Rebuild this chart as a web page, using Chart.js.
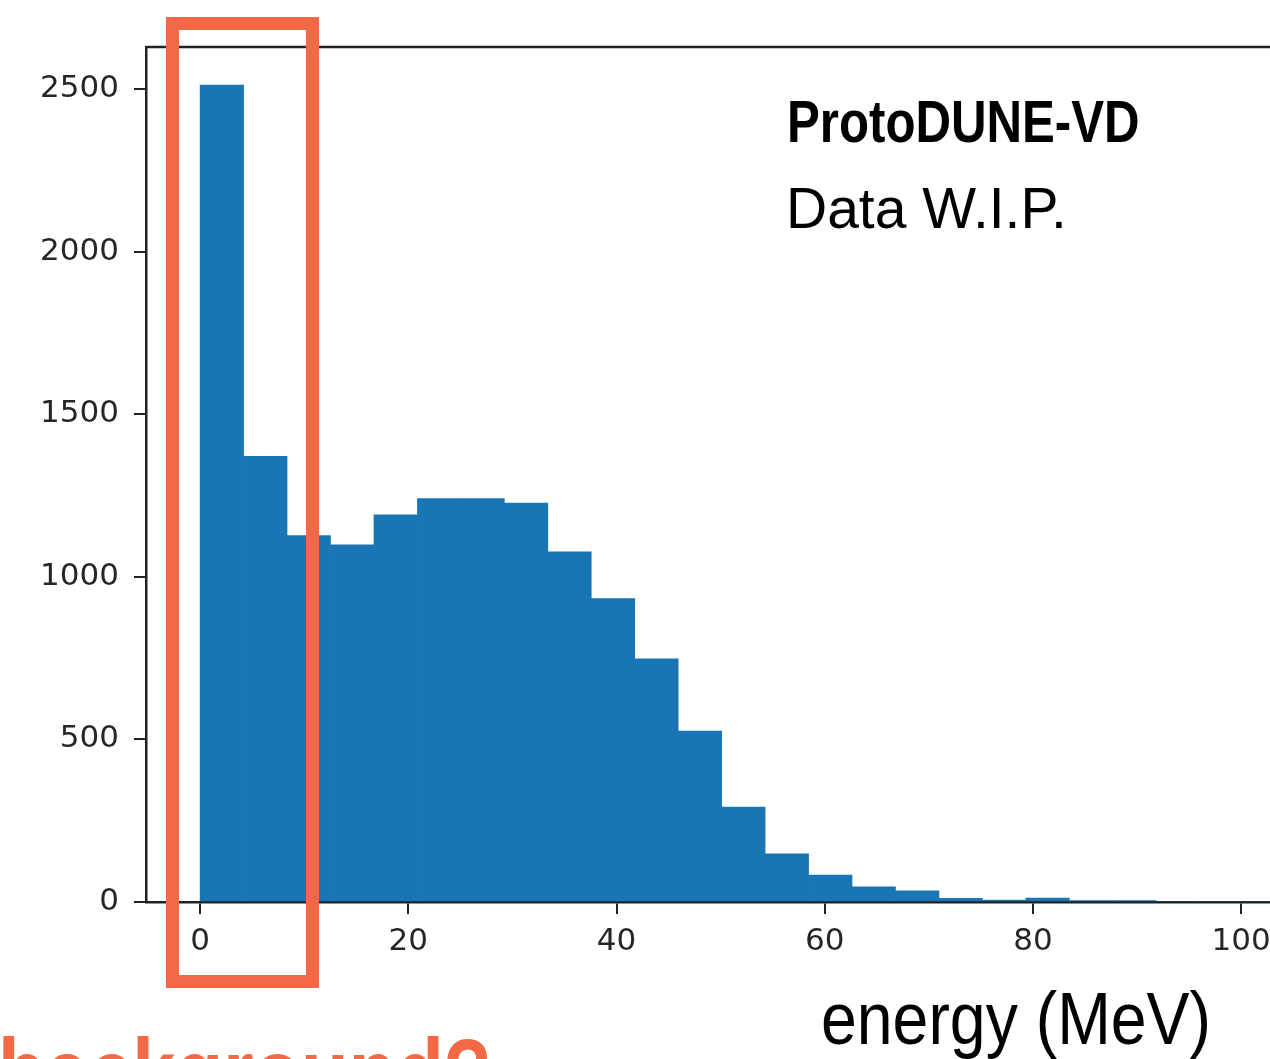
<!DOCTYPE html>
<html>
<head>
<meta charset="utf-8">
<script src="https://cdn.jsdelivr.net/npm/chart.js@4.4.1/dist/chart.umd.min.js"></script>
<style>
html, body { margin: 0; padding: 0; background: #fff; overflow: hidden; }
#wrap { position: relative; width: 1270px; height: 1059px; overflow: hidden; background: #fff; }
#canvas { position: absolute; left: 0; top: 0; }
.note { position: absolute; white-space: nowrap; line-height: 1; transform-origin: 0 0; }
#title { left: 787px; top: 87px; font: bold 60px "Liberation Sans", sans-serif; color: #000; transform: scaleX(0.82); }
#sub { left: 786px; top: 175px; font: 57px "Liberation Sans", sans-serif; color: #000; }
#xlabel { left: 821px; top: 976px; font: 74px "Liberation Sans", sans-serif; color: #000; transform: scaleX(0.87); }
#bg { left: -2px; top: 1018px; font: bold 95px "Liberation Sans", sans-serif; color: #F36945; transform: scaleX(0.82); }
#box { position: absolute; left: 166px; top: 17px; width: 153px; height: 971px; box-sizing: border-box; border: 13px solid #F36945; }
</style>
</head>
<body>
<div id="wrap">
  <canvas id="canvas" width="1345" height="1059"></canvas>
  <div id="box"></div>
  <div class="note" id="title">ProtoDUNE-VD</div>
  <div class="note" id="sub">Data W.I.P.</div>
  <div class="note" id="xlabel">energy (MeV)</div>
  <div class="note" id="bg">background?</div>
</div>
<script>
// histogram bin edges (MeV) and counts
var binEdges = [0, 4.175, 8.35, 12.525, 16.7, 20.875, 25.05, 29.225, 33.4, 37.575, 41.75, 45.925, 50.1,
                54.275, 58.45, 62.625, 66.8, 70.975, 75.15, 79.325, 83.5, 87.675, 91.85, 96.025, 100.2, 104.375];
var counts = [2513, 1371, 1127, 1099, 1191, 1241, 1241, 1227, 1077, 933, 748, 526, 292,
              148, 83, 47, 34, 11, 6, 12, 4, 4, 0, 0, 0];
var xTicks = [0, 20, 40, 60, 80, 100];
var yTicks = [0, 500, 1000, 1500, 2000, 2500];

var bars = [];
for (var i = 0; i < counts.length; i++) {
    bars.push({ x: (binEdges[i] + binEdges[i + 1]) / 2, y: counts[i] });
}

var axisColor = '#222222';
var tickFont = { family: 'DejaVu Sans', size: 31 };

// matplotlib draws all four spines, chart.js only the two axes
var frame = {
    id: 'frame',
    afterDatasetsDraw: function(chart) {
        var c = chart.ctx, a = chart.chartArea;
        c.save();
        c.strokeStyle = axisColor;
        c.lineWidth = 2.5;
        c.beginPath();
        c.moveTo(a.left, a.top);
        c.lineTo(a.right, a.top);
        c.lineTo(a.right, a.bottom);
        c.stroke();
        c.restore();
    }
};

var config = {
    type: 'bar',
    data: {
        datasets: [{
            label: 'energy',
            data: bars,
            backgroundColor: '#1a75b4',
            borderWidth: 0,
            barPercentage: 1,
            categoryPercentage: 1,
            grouped: false
        }]
    },
    options: {
        responsive: false,
        animation: false,
        layout: { padding: { top: 47, right: 4, left: 0, bottom: 0 } },
        plugins: { legend: { display: false }, tooltip: { enabled: false } },
        scales: {
            x: {
                type: 'linear',
                min: -5.2,
                max: 109.6,
                offset: false,
                afterBuildTicks: function(axis) { axis.ticks = xTicks.map(function(v) { return { value: v }; }); },
                afterFit: function(s) { s.height = 157; },
                grid: { display: true, offset: false, drawOnChartArea: false, drawTicks: true, tickLength: 12, lineWidth: 2, color: axisColor },
                border: { display: true, color: axisColor, width: 2.5 },
                ticks: { font: tickFont, color: '#262626', padding: 9, maxRotation: 0, autoSkip: false,
                         callback: function(v) { return String(v); } }
            },
            y: {
                type: 'linear',
                min: 0,
                max: 2630,
                afterBuildTicks: function(axis) { axis.ticks = yTicks.map(function(v) { return { value: v }; }); },
                afterFit: function(s) { s.width = 146; },
                grid: { display: true, offset: false, drawOnChartArea: false, drawTicks: true, tickLength: 12, lineWidth: 2, color: axisColor },
                border: { display: true, color: axisColor, width: 2.5 },
                ticks: { font: tickFont, color: '#262626', padding: 15, autoSkip: false,
                         callback: function(v) { return String(v); } }
            }
        }
    },
    plugins: [frame]
};

window.onload = function() {
    var ctx = document.getElementById('canvas').getContext('2d');
    window.histChart = new Chart(ctx, config);
};
</script>
</body>
</html>
